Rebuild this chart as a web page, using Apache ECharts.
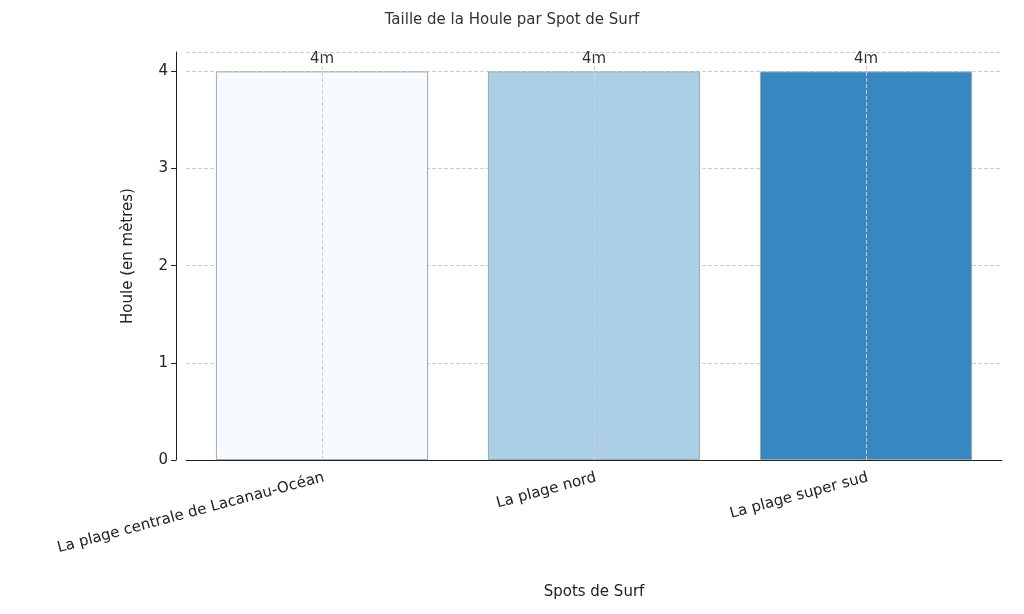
<!DOCTYPE html><html><head><meta charset="utf-8"><script src="https://cdn.jsdelivr.net/npm/echarts@6/dist/echarts.min.js"></script></head><body style="margin:0"><div id="c" style="width:1024px;height:614px"></div><script>
const categories=['La plage centrale de Lacanau-Océan','La plage nord','La plage super sud'];
const values=[4,4,4];
const colors=['#f7fbff','#abd0e6','#3787c0'];
const ch=echarts.init(document.getElementById('c'));
const f='DejaVu Sans';
ch.setOption({
title:{text:'Taille de la Houle par Spot de Surf',left:'center',top:8,textStyle:{fontFamily:f,fontSize:15,fontWeight:'normal',color:'#333'}},
grid:{left:186,right:22,top:52,bottom:154},
xAxis:{type:'category',data:categories,name:'Spots de Surf',nameLocation:'middle',nameGap:125,nameTextStyle:{fontFamily:f,fontSize:15,color:'#222'},
axisLine:{lineStyle:{color:'#222'}},axisTick:{alignWithLabel:true,lineStyle:{color:'#222'}},
axisLabel:{rotate:15,fontFamily:f,fontSize:15,color:'#222',margin:10,interval:0,align:'right',verticalAlign:'top'}},
yAxis:{type:'value',min:0,max:4.2,interval:1,offset:10,name:'Houle (en mètres)',nameLocation:'middle',nameGap:40,nameTextStyle:{fontFamily:f,fontSize:15,color:'#222'},
axisLine:{show:true,lineStyle:{color:'#222'}},axisTick:{show:true,lineStyle:{color:'#222'}},
axisLabel:{showMaxLabel:false,fontFamily:f,fontSize:15,color:'#222'},
splitLine:{lineStyle:{type:'dashed',color:'#d0d0d0'}}},
series:[{type:'bar',barWidth:'78%',data:values.map((v,i)=>({value:v,itemStyle:{color:colors[i],borderColor:'#a0a8b0',borderWidth:1}})),
label:{show:true,position:'top',formatter:p=>p.value+'m',fontFamily:f,fontSize:15,color:'#333'},
markLine:{silent:true,symbol:'none',label:{show:false},lineStyle:{type:'dashed',color:'#d0d0d0',width:1},data:categories.map(c=>({xAxis:c}))}}]
});
</script></body></html>
